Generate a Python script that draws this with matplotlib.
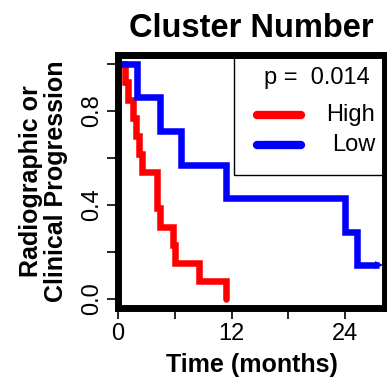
import numpy as np
import matplotlib
matplotlib.use("Agg")
import matplotlib.pyplot as plt
from matplotlib.lines import Line2D
from matplotlib.patches import Rectangle

plt.rcParams['font.family'] = ['Liberation Sans', 'DejaVu Sans']

# time to progression (months), 1 = event, 0 = censored
high_times = [0.77, 1.05, 1.55, 1.9, 2.2, 2.5, 4.1, 4.1, 4.4, 5.8, 6.0, 8.6, 11.4]
high_events = [1, 1, 1, 1, 1, 1, 1, 1, 1, 1, 1, 1, 1]
low_times = [2.0, 4.4, 6.7, 11.4, 24.0, 25.2, 27.6]
low_events = [1, 1, 1, 1, 1, 1, 0]
p_value = "0.014"
group_names = ["High", "Low"]
group_colors = ["#ff0000", "#0000ff"]


def km(times, events):
    t = np.asarray(times, float)
    e = np.asarray(events, int)
    order = np.argsort(t)
    t, e = t[order], e[order]
    xs, ys = [0.0], [1.0]
    s = 1.0
    at_risk = len(t)
    for ut in np.unique(t):
        d = e[t == ut].sum()
        n = (t == ut).sum()
        if d > 0:
            s *= (1 - d / at_risk)
        xs.append(ut)
        ys.append(s)
        at_risk -= n
    return np.array(xs), np.array(ys)


fig = plt.figure(figsize=(3.87, 3.81), dpi=100)
ax = fig.add_axes([0.305, 0.192, 0.69, 0.664])

hx, hy = km(high_times, high_events)
lx, ly = km(low_times, low_events)

ax.step(hx, hy, where='post', color=group_colors[0], lw=4.7,
        solid_capstyle='round', solid_joinstyle='miter')
ax.step(lx, ly, where='post', color=group_colors[1], lw=4.7,
        solid_capstyle='butt', solid_joinstyle='miter')
ax.plot(lx[-1], ly[-1], marker='>', color=group_colors[1], ms=6, mew=0)

ax.set_xlim(0, 28.2)
ax.set_ylim(-0.038, 1.038)
ax.set_xticks([0, 6, 12, 18, 24])
ax.set_xticklabels(['0', '', '12', '', '24'])
ax.set_yticks([0, 0.2, 0.4, 0.6, 0.8, 1.0])
ax.set_yticklabels(['0.0', '', '0.4', '', '0.8', ''])
ax.tick_params(direction='out', length=8, width=1.2, labelsize=17, pad=3)
plt.setp(ax.get_yticklabels(), rotation=90, va='center')
for sp in ax.spines.values():
    sp.set_linewidth(5)

ax.set_title('Cluster Number', fontsize=23.5, fontweight='bold', pad=13)
ax.set_xlabel('Time (months)', fontsize=18, fontweight='bold', labelpad=6)
ax.set_ylabel('Radiographic or\nClinical Progression', fontsize=18,
              fontweight='bold', labelpad=9, linespacing=1.05)

# legend box
ax.add_patch(Rectangle((0.434, 0.526), 0.6, 0.5, transform=ax.transAxes,
                       fill=False, lw=1, ec='black', clip_on=True))
ax.text(0.944, 0.909, 'p =  ' + p_value, transform=ax.transAxes,
        ha='right', va='center', fontsize=17)
for name, col, yy in zip(group_names, group_colors, [0.763, 0.644]):
    ax.add_line(Line2D([0.522, 0.684], [yy, yy], transform=ax.transAxes,
                       color=col, lw=6, solid_capstyle='round'))
    ax.text(0.963, yy, name, transform=ax.transAxes, ha='right',
            va='center', fontsize=17)

plt.savefig('out.png', dpi=100)
